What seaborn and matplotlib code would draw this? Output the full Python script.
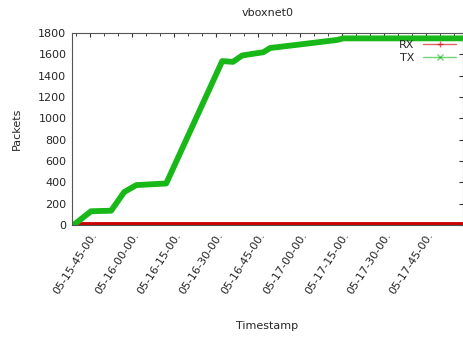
import numpy as np
import pandas as pd
import matplotlib
matplotlib.use("Agg")
import matplotlib.pyplot as plt
import matplotlib.dates as mdates
from matplotlib.lines import Line2D
import seaborn as sns

# TX packets (timestamps on day 05)
tx_times = ["15:39:00", "15:45:20", "15:52:30", "15:57:10", "16:01:30", "16:12:10",
            "16:32:10", "16:36:00", "16:39:20", "16:46:50", "16:49:20", "16:59:00",
            "17:13:10", "17:15:20", "17:58:10"]
tx_values = [0, 130, 135, 310, 375, 390,
             1537, 1530, 1590, 1620, 1660, 1690,
             1735, 1750, 1750]

rx_times = ["15:38:30", "17:58:10"]
rx_values = [0, 0]

tick_times = ["15:45", "16:00", "16:15", "16:30", "16:45", "17:00", "17:15", "17:30", "17:45"]
y_ticks = [0, 200, 400, 600, 800, 1000, 1200, 1400, 1600, 1800]

day = "2015-01-05 "
tx = pd.DataFrame({"t": pd.to_datetime([day + s for s in tx_times]), "v": tx_values})
rx = pd.DataFrame({"t": pd.to_datetime([day + s for s in rx_times]), "v": rx_values})

sns.set_style("white")
plt.rcParams["font.family"] = ["DejaVu Sans"]

fig = plt.figure(figsize=(4.64, 3.37), dpi=100)
ax = fig.add_axes([0.155, 0.332, 0.843, 0.570])

red, green = "#cc0000", "#18b818"
sns.lineplot(data=rx, x="t", y="v", ax=ax, color=red, lw=4.2, legend=False)
sns.lineplot(data=tx, x="t", y="v", ax=ax, color=green, lw=4.2, legend=False)

ax.set_xlim(pd.Timestamp(day + "15:38:30"), pd.Timestamp(day + "17:58:10"))
ax.set_ylim(0, 1800)
ax.set_yticks(y_ticks)
ticks = pd.to_datetime([day + s for s in tick_times])
ax.set_xticks(ticks)
ax.xaxis.set_major_formatter(mdates.DateFormatter("%d-%H-%M-%S."))
ax.xaxis.set_minor_locator(mdates.MinuteLocator(byminute=range(0, 60, 5)))
for lab in ax.get_xticklabels():
    lab.set_rotation(57)
    lab.set_ha("right")
    lab.set_va("top")
    lab.set_rotation_mode("anchor")
ax.tick_params(axis="both", labelsize=8, direction="in", length=3, color="#333333",
               top=True, right=True, pad=4)
ax.tick_params(axis="x", which="minor", direction="in", length=2, top=True, bottom=False)
for s in ax.spines.values():
    s.set_color("#555555")
    s.set_linewidth(0.8)

ax.set_title("vboxnet0", fontsize=8, pad=12)
ax.set_xlabel("Timestamp", fontsize=8, labelpad=18)
ax.set_ylabel("Packets", fontsize=8, labelpad=12)

handles = [Line2D([], [], color=red, lw=1, marker="+", markersize=5, alpha=0.6, label="RX"),
           Line2D([], [], color=green, lw=1, marker="x", markersize=4, alpha=0.6, label="TX")]
ax.legend(handles=handles, loc="upper right", fontsize=8, frameon=False, handlelength=3.0,
          borderaxespad=0.2, labelspacing=0.3, markerfirst=False)

fig.savefig("out.png", dpi=100)
